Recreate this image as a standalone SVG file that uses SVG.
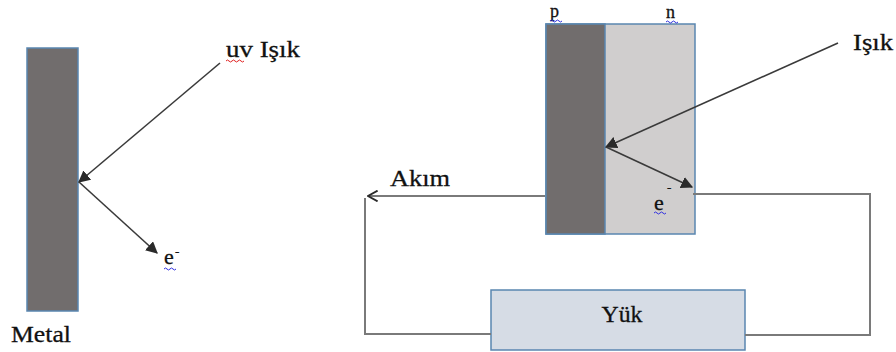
<svg xmlns="http://www.w3.org/2000/svg" width="896" height="352" viewBox="0 0 896 352">
<style>
.t{font-family:"Liberation Serif","DejaVu Serif",serif;font-size:24px;fill:#111;stroke:#111;stroke-width:0.3}
.box{stroke:#5a86b0;stroke-width:1.5}
.ray{stroke:#3a3a3a;stroke-width:1.6;fill:none}
.wire{stroke:#7a7a7a;stroke-width:2;fill:none}
.sq{fill:none;stroke-width:1}
</style>
<defs>
<marker id="tri" viewBox="0 0 10 10" refX="9" refY="5" markerWidth="12" markerHeight="12" markerUnits="userSpaceOnUse" orient="auto">
<path d="M0,0 L10,5 L0,10 z" fill="#2a2a2a"/>
</marker>
<marker id="chev" viewBox="0 0 10 10" refX="9" refY="5" markerWidth="12" markerHeight="12" markerUnits="userSpaceOnUse" orient="auto">
<path d="M1,0.5 L9,5 L1,9.5" fill="none" stroke="#2a2a2a" stroke-width="1.5"/>
</marker>
</defs>
<g id="metal">
<rect x="27" y="48" width="51" height="263" fill="#716d6d" class="box"/>
<text class="t" x="11" y="342" textLength="60" lengthAdjust="spacingAndGlyphs">Metal</text>
</g>
<g id="uv-label">
<text class="t" x="226" y="57" textLength="74" lengthAdjust="spacingAndGlyphs">uv Işık</text>
<path class="sq" stroke="#e02020" d="M226,61 q1.5,-2 3,0 t3,0 t3,0 t3,0 t3,0 t3,0"/>
</g>
<g id="e-left">
<text class="t" x="164" y="264" style="font-size:22px">e</text>
<text class="t" x="175" y="256" style="font-size:13px">-</text>
<path class="sq" stroke="#3030e0" d="M164,269 q1.5,-2 3,0 t3,0 t3,0 t3,0"/>
</g>
<g id="cell">
<rect x="546" y="24" width="149" height="210" fill="#d0cece" class="box"/>
<rect x="546" y="24" width="59" height="210" fill="#716d6d" class="box"/>
<text class="t" x="550" y="17" style="font-size:18px">p</text>
<path class="sq" stroke="#3030e0" d="M550,21 q1.5,-2 3,0 t3,0 t3,0 t3,0"/>
<text class="t" x="666" y="18" style="font-size:18px">n</text>
<path class="sq" stroke="#3030e0" d="M666,22 q1.5,-2 3,0 t3,0 t3,0 t3,0"/>
<text class="t" x="654" y="210" style="font-size:22px">e</text>
<text class="t" x="667" y="192" style="font-size:13px">-</text>
<path class="sq" stroke="#3030e0" d="M654,213 q1.5,-2 3,0 t3,0 t3,0 t3,0"/>
</g>
<g id="isik-label">
<text class="t" x="853" y="50" textLength="40" lengthAdjust="spacingAndGlyphs">Işık</text>
</g>
<g id="akim-label">
<text class="t" x="390" y="186" textLength="60" lengthAdjust="spacingAndGlyphs">Akım</text>
</g>
<g id="load">
<rect x="491" y="290" width="254" height="60" fill="#d6dce5" class="box"/>
<text class="t" x="622" y="322" text-anchor="middle" textLength="41" lengthAdjust="spacingAndGlyphs">Yük</text>
</g>
<g id="connectors">
<line class="ray" x1="220" y1="63" x2="79" y2="182" marker-end="url(#tri)"/>
<line class="ray" x1="79" y1="182" x2="157" y2="253" marker-end="url(#tri)"/>
<line class="ray" x1="838" y1="43" x2="606" y2="147" marker-end="url(#tri)"/>
<line class="ray" x1="606" y1="147" x2="692" y2="187" marker-end="url(#tri)"/>
<line class="wire" x1="545" y1="196" x2="368" y2="196" marker-end="url(#chev)"/>
<polyline class="wire" points="365,198 365,334 491,334"/>
<polyline class="wire" points="693,194 870,194 870,335 745,335"/>
</g>
</svg>
